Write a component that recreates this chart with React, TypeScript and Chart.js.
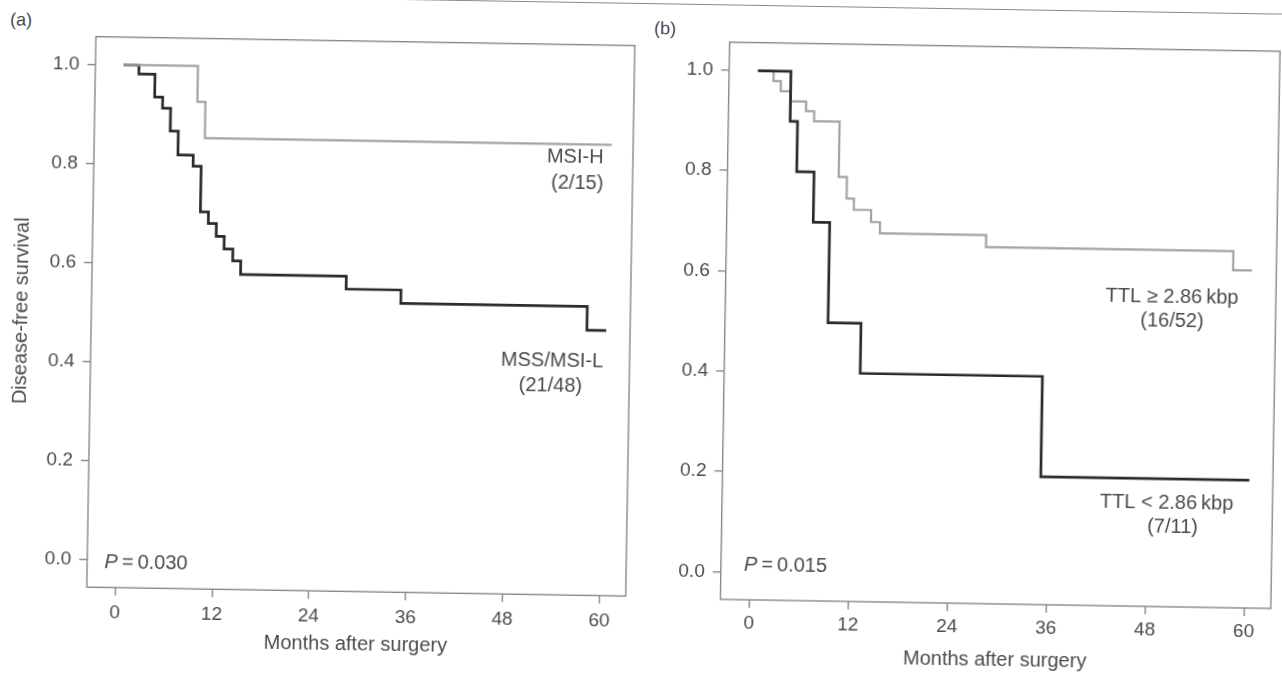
import React, { useEffect, useRef } from "react";
import { Chart, registerables } from "chart.js";

Chart.register(...registerables);

// ---------------- data ----------------
const monthTicks = [0, 12, 24, 36, 48, 60];
const survivalTicks = [0, 0.2, 0.4, 0.6, 0.8, 1.0];

// (a) microsatellite status
const msiHMonths = [0, 9.2, 10.2, 60.6];
const msiHSurvival = [1, 0.928, 0.855, 0.855];
const mssMonths = [0, 1.9, 3.9, 4.9, 5.9, 6.9, 8.8, 9.8, 10.8, 11.8, 12.8, 13.9, 14.9, 28.0, 34.8, 57.9, 60.3];
const mssSurvival = [1, 0.982, 0.936, 0.914, 0.868, 0.82, 0.798, 0.706, 0.683, 0.657, 0.632, 0.608, 0.581, 0.555, 0.528, 0.48, 0.48];

// (b) telomere length
const ttlHighMonths = [0, 1.9, 2.8, 4.0, 5.9, 6.9, 10.0, 11.0, 11.9, 14.0, 15.1, 28.0, 58.0, 60.3];
const ttlHighSurvival = [1, 0.98, 0.96, 0.94, 0.921, 0.901, 0.791, 0.748, 0.726, 0.702, 0.68, 0.656, 0.618, 0.618];
const ttlLowMonths = [0, 4.0, 4.9, 7.0, 9.0, 13.0, 35.1, 60.4];
const ttlLowSurvival = [1, 0.9, 0.8, 0.7, 0.5, 0.4, 0.2, 0.2];

const xTitle = "Months after surgery";
const yTitle = "Disease-free survival";

// ---------------- style ----------------
const FONT = '"Liberation Sans", Arial, Helvetica, sans-serif';
const TEXT = "#4b4b4b";
const FRAME = "#808080";
const DARK = "#2a2a2a";
const LIGHT = "#a2a2a2";
const X_MIN = -3.5;
const X_MAX = 63.25;
const Y_MIN = -0.055;
const Y_MAX = 1.056;

type Note = { text: string; x: number; y: number; align: "left" | "center"; italic?: string };

const notesA: Note[] = [
  { text: "MSI-H", x: 56.1, y: 0.8286, align: "center" },
  { text: "(2/15)", x: 56.4, y: 0.776, align: "center" },
  { text: "MSS/MSI-L", x: 53.65, y: 0.4165, align: "center" },
  { text: "(21/48)", x: 53.5, y: 0.366, align: "center" },
  { italic: "P", text: "\u2009=\u20090.030", x: -1.35, y: -0.004, align: "left" },
];

const notesB: Note[] = [
  { text: "TTL \u2265 2.86\u2009kbp", x: 50.65, y: 0.5617, align: "center" },
  { text: "(16/52)", x: 50.7, y: 0.5139, align: "center" },
  { text: "TTL < 2.86\u2009kbp", x: 50.41, y: 0.1523, align: "center" },
  { text: "(7/11)", x: 51.17, y: 0.1027, align: "center" },
  { italic: "P", text: "\u2009=\u20090.015", x: -0.7, y: 0.0134, align: "left" },
];

const framePlugin = {
  id: "frame",
  afterDatasetsDraw(chart: any) {
    const { ctx, chartArea: a } = chart;
    ctx.save();
    ctx.strokeStyle = FRAME;
    ctx.lineWidth = 1.3;
    ctx.strokeRect(a.left, a.top, a.right - a.left, a.bottom - a.top);
    ctx.restore();
  },
};

const notesPlugin = {
  id: "notes",
  afterDraw(chart: any, _args: any, opts: any) {
    const { ctx } = chart;
    const xs = chart.scales.x;
    const ys = chart.scales.y;
    const regular = `20px ${FONT}`;
    const ital = `italic 20px ${FONT}`;
    ctx.save();
    ctx.fillStyle = TEXT;
    ctx.textBaseline = "middle";
    ctx.textAlign = "left";
    for (const n of (opts.items || []) as Note[]) {
      const px = xs.getPixelForValue(n.x);
      const py = ys.getPixelForValue(n.y);
      let w = 0;
      if (n.italic) {
        ctx.font = ital;
        w += ctx.measureText(n.italic).width;
      }
      ctx.font = regular;
      w += ctx.measureText(n.text).width;
      let start = n.align === "center" ? px - w / 2 : px;
      if (n.italic) {
        ctx.font = ital;
        ctx.fillText(n.italic, start, py);
        start += ctx.measureText(n.italic).width;
      }
      ctx.font = regular;
      ctx.fillText(n.text, start, py);
    }
    ctx.restore();
  },
};

type Series = { months: number[]; survival: number[]; color: string; width: number };
type PanelSpec = {
  left: number;
  width: number;
  height: number;
  series: Series[];
  notes: Note[];
  showYTitle: boolean;
  yAxisWidth: number;
  padRight: number;
  padTop: number;
  padBottom: number;
  xAxisHeight: number;
  xTickPad: number;
  xTitlePad: number;
};

function buildConfig(p: PanelSpec): any {
  return {
    type: "line",
    data: {
      datasets: p.series.map((s) => ({
        data: s.months.map((m, i) => ({ x: m, y: s.survival[i] })),
        borderColor: s.color,
        borderWidth: s.width,
        pointRadius: 0,
        stepped: true,
        fill: false,
        tension: 0,
        borderJoinStyle: "miter",
        borderCapStyle: "butt",
      })),
    },
    plugins: [framePlugin, notesPlugin],
    options: {
      responsive: false,
      animation: false,
      events: [],
      layout: { padding: { left: 0, right: p.padRight, top: p.padTop, bottom: p.padBottom } },
      plugins: {
        legend: { display: false },
        tooltip: { enabled: false },
        notes: { items: p.notes },
      },
      scales: {
        x: {
          type: "linear",
          min: X_MIN,
          max: X_MAX,
          afterBuildTicks: (s: any) => {
            s.ticks = monthTicks.map((v) => ({ value: v }));
          },
          afterFit: (s: any) => {
            s.height = p.xAxisHeight;
          },
          ticks: {
            color: TEXT,
            font: { family: FONT, size: 19 },
            padding: p.xTickPad,
            maxRotation: 0,
            autoSkip: false,
            callback: (v: any) => String(v),
          },
          grid: { display: true, drawOnChartArea: false, drawTicks: true, tickLength: 8, color: FRAME, lineWidth: 1.3 },
          border: { display: false },
          title: {
            display: true,
            text: xTitle,
            color: TEXT,
            font: { family: FONT, size: 20 },
            padding: { top: 0, bottom: p.xTitlePad },
          },
        },
        y: {
          type: "linear",
          min: Y_MIN,
          max: Y_MAX,
          afterBuildTicks: (s: any) => {
            s.ticks = survivalTicks.map((v) => ({ value: v }));
          },
          afterFit: (s: any) => {
            s.width = p.yAxisWidth;
          },
          ticks: {
            color: TEXT,
            font: { family: FONT, size: 19 },
            padding: 8,
            autoSkip: false,
            callback: (v: any) => Number(v).toFixed(1),
          },
          grid: { display: true, drawOnChartArea: false, drawTicks: true, tickLength: 8, color: FRAME, lineWidth: 1.3 },
          border: { display: false },
          title: {
            display: p.showYTitle,
            text: yTitle,
            color: TEXT,
            font: { family: FONT, size: 20 },
            padding: { top: 9.6, bottom: 0 },
          },
        },
      },
    },
  };
}

const panelA: PanelSpec = {
  left: 0,
  width: 641,
  height: 673,
  series: [
    { months: msiHMonths, survival: msiHSurvival, color: LIGHT, width: 2.2 },
    { months: mssMonths, survival: mssSurvival, color: DARK, width: 2.7 },
  ],
  notes: notesA,
  showYTitle: true,
  yAxisWidth: 91,
  padRight: 11,
  padTop: 45.7,
  padBottom: 6.7,
  xAxisHeight: 70,
  xTickPad: 6,
  xTitlePad: 4.6,
};

const panelB: PanelSpec = {
  left: 641,
  width: 641,
  height: 673,
  series: [
    { months: ttlLowMonths, survival: ttlLowSurvival, color: DARK, width: 2.7 },
    { months: ttlHighMonths, survival: ttlHighSurvival, color: LIGHT, width: 2.2 },
  ],
  notes: notesB,
  showYTitle: false,
  yAxisWidth: 83.7,
  padRight: 6.8,
  padTop: 40.7,
  padBottom: 5,
  xAxisHeight: 70,
  xTickPad: 4.2,
  xTitlePad: 1.8,
};

function KMPanel({ spec }: { spec: PanelSpec }) {
  const ref = useRef<HTMLCanvasElement | null>(null);
  useEffect(() => {
    if (!ref.current) return;
    const chart = new Chart(ref.current, buildConfig(spec));
    return () => chart.destroy();
  }, [spec]);
  return (
    <canvas
      ref={ref}
      width={spec.width}
      height={spec.height}
      style={{ position: "absolute", left: spec.left, top: 0, width: spec.width, height: spec.height }}
    />
  );
}

const panelLabel: React.CSSProperties = {
  position: "absolute",
  transform: "translate(-50%, -50%)",
  fontFamily: FONT,
  fontSize: 18,
  color: TEXT,
  lineHeight: 1,
  whiteSpace: "nowrap",
};

export default function App() {
  return (
    <div
      style={{
        position: "fixed",
        left: 0,
        top: 0,
        width: 1282,
        height: 673,
        overflow: "hidden",
        background: "#ffffff",
      }}
    >
      <div
        style={{
          position: "absolute",
          left: 0,
          top: 0,
          width: 1282,
          height: 673,
          transform: "rotate(0.95deg)",
          transformOrigin: "641px 336.5px",
        }}
      >
        <div
          style={{
            position: "absolute",
            left: 0,
            top: 3,
            width: 1282,
            height: 0,
            borderTop: "1.5px solid #8a8a8a",
          }}
        />
        <div style={{ ...panelLabel, left: 16, top: 30 }}>(a)</div>
        <div style={{ ...panelLabel, left: 660, top: 28 }}>(b)</div>
        <KMPanel spec={panelA} />
        <KMPanel spec={panelB} />
      </div>
    </div>
  );
}
